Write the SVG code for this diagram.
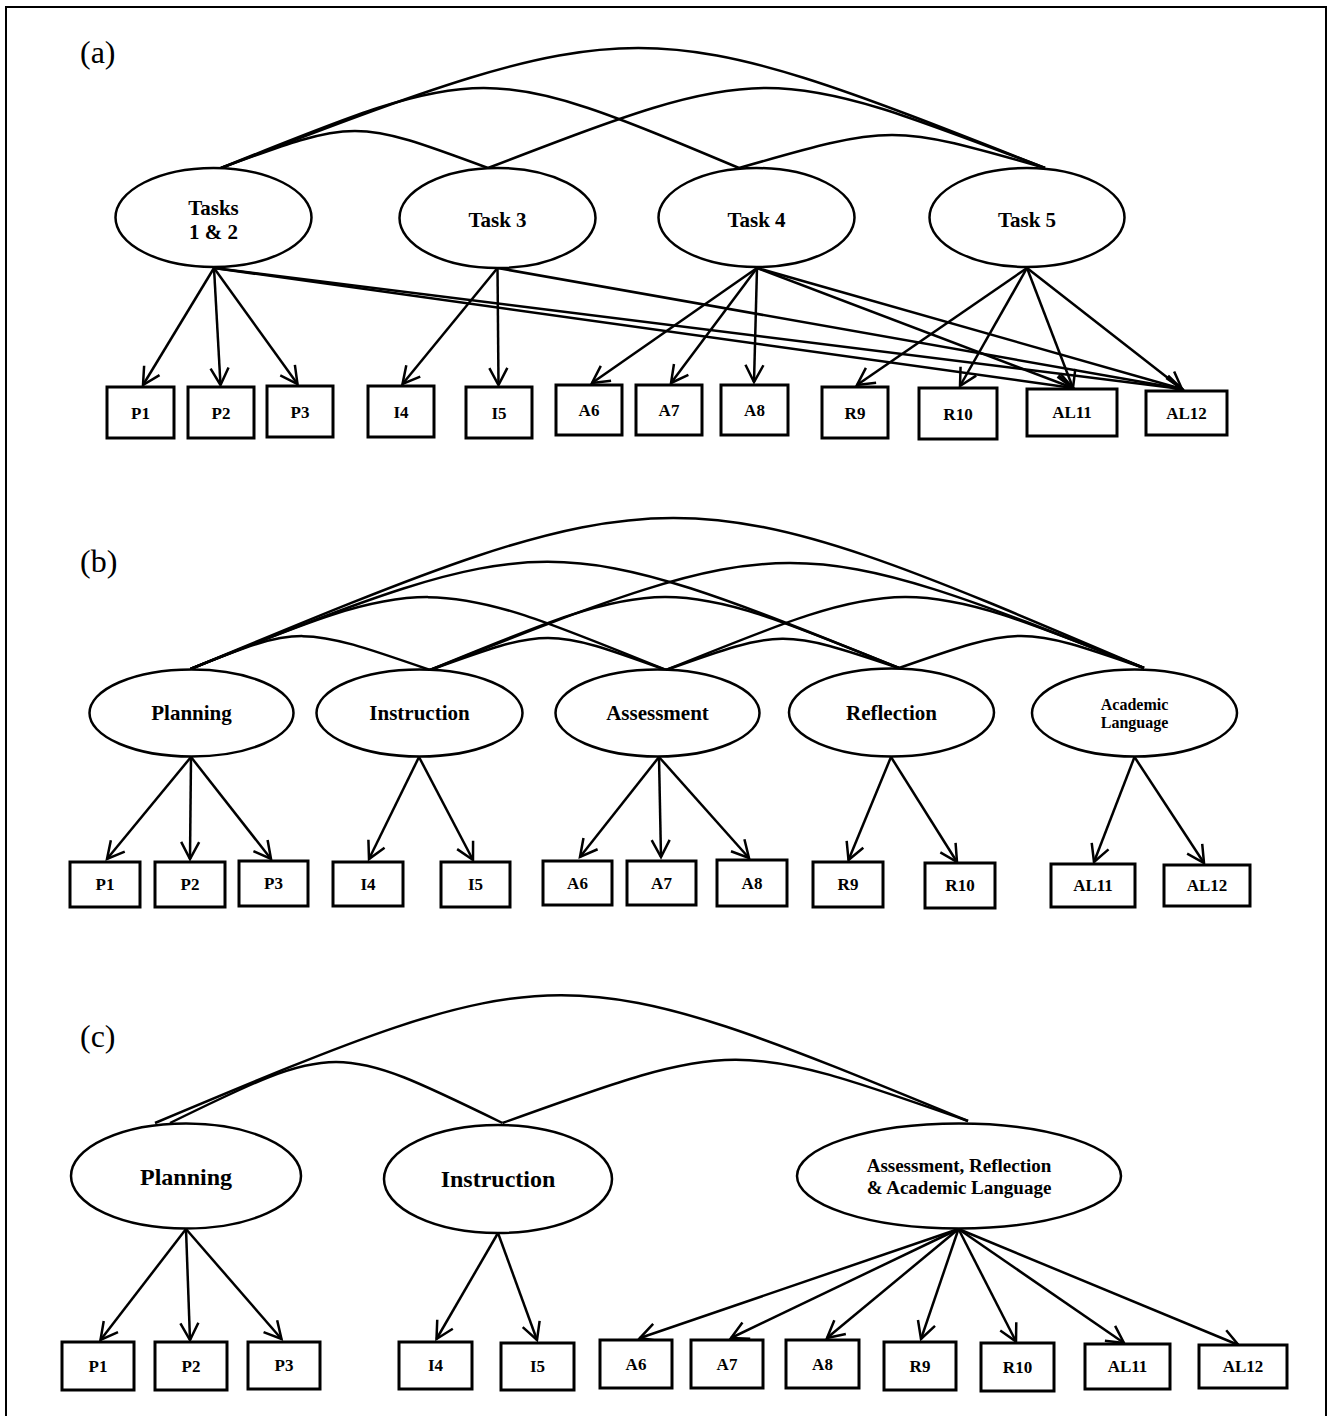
<svg xmlns="http://www.w3.org/2000/svg" width="1331" height="1416" viewBox="0 0 1331 1416">
<style>
.bg{fill:#fff}
.frame{fill:none;stroke:#000;stroke-width:2}
.lat{fill:#fff;stroke:#000;stroke-width:2.5}
.obs{fill:#fff;stroke:#000;stroke-width:3}
.cv{fill:none;stroke:#000;stroke-width:2.5}
.ar{fill:none;stroke:#000;stroke-width:2.5;marker-end:url(#ah)}
text{font-family:"Liberation Serif","Times New Roman",serif;fill:#000;text-anchor:middle}
.lab{font-size:32px;text-anchor:start}
.lt{font-size:21px;font-weight:bold}
.ls{font-size:16px;font-weight:bold}
.lc{font-size:24px;font-weight:bold}
.lc2{font-size:19px;font-weight:bold}
.bt{font-size:17px;font-weight:bold}
</style>
<defs>
<marker id="ah" markerUnits="userSpaceOnUse" markerWidth="24" markerHeight="24" viewBox="0 0 24 24" refX="18" refY="9" orient="auto" overflow="visible">
<path d="M1,0 L18,9 L1,18" fill="none" stroke="#000" stroke-width="2.5"/>
</marker>
</defs>
<rect class="bg" x="0" y="0" width="1331" height="1416"/>
<path class="frame" d="M6,1416 V7 H1326 V1416"/>
<text class="lab" x="80" y="63">(a)</text>
<text class="lab" x="80" y="572">(b)</text>
<text class="lab" x="80" y="1047">(c)</text>

<g id="connectors">
<!-- panel a covariances -->
<path class="cv" d="M221,168 C355,118.7 355,118.7 488,168"/>
<path class="cv" d="M221,168 C485,61.3 485,61.3 739,168"/>
<path class="cv" d="M221,168 C640,8 640,8 1045,168"/>
<path class="cv" d="M488,168 C766,61.3 766,61.3 1045,168"/>
<path class="cv" d="M739,168 C892,124 892,124 1045,168"/>
<!-- panel a loadings -->
<path class="ar" d="M214,268 L143,385"/>
<path class="ar" d="M214,268 L220.5,385"/>
<path class="ar" d="M214,268 L297.5,384"/>
<path class="ar" d="M214,268 L1073,388"/>
<path class="ar" d="M214,268 L1182,389"/>
<path class="ar" d="M497.5,268 L402.5,384"/>
<path class="ar" d="M497.5,268 L498.5,385"/>
<path class="ar" d="M497.5,268 L1182,389"/>
<path class="ar" d="M757,268 L592,383"/>
<path class="ar" d="M757,268 L671,383"/>
<path class="ar" d="M757,268 L754,382"/>
<path class="ar" d="M757,268 L1073,388"/>
<path class="ar" d="M757,268 L1182,389"/>
<path class="ar" d="M1027,268 L857,385"/>
<path class="ar" d="M1027,268 L960,386"/>
<path class="ar" d="M1027,268 L1073,388"/>
<path class="ar" d="M1027,268 L1182,389"/>
<!-- panel b covariances -->
<path class="cv" d="M190.5,669 C300,625 300,625 430,670"/>
<path class="cv" d="M430,670 C548,627.3 548,627.3 666,670"/>
<path class="cv" d="M666,670 C782,628.7 782,628.7 899,668"/>
<path class="cv" d="M899,668 C1021,625.3 1021,625.3 1144,668"/>
<path class="cv" d="M190.5,669 C428,573 428,573 666,670"/>
<path class="cv" d="M430,670 C665,573 665,573 899,668"/>
<path class="cv" d="M666,670 C905,573 905,573 1144,668"/>
<path class="cv" d="M190.5,669 C548,526.3 548,526.3 899,668"/>
<path class="cv" d="M430,670 C790,527.7 790,527.7 1144,668"/>
<path class="cv" d="M190.5,669 C675,467.7 675,467.7 1144,668"/>
<!-- panel b loadings -->
<path class="ar" d="M191,757 L107,859"/>
<path class="ar" d="M191,757 L190,859"/>
<path class="ar" d="M191,757 L271,859"/>
<path class="ar" d="M419,757 L369,859"/>
<path class="ar" d="M419,757 L473,860"/>
<path class="ar" d="M659,757 L580,857"/>
<path class="ar" d="M659,757 L661,857"/>
<path class="ar" d="M659,757 L749,858"/>
<path class="ar" d="M891,757 L848.5,860"/>
<path class="ar" d="M891,757 L957,862"/>
<path class="ar" d="M1134.5,757 L1094,862"/>
<path class="ar" d="M1134.5,757 L1204,863"/>
<!-- panel c covariances -->
<path class="cv" d="M170,1123 C336,1041.7 336,1041.7 502.5,1123"/>
<path class="cv" d="M502.5,1123 C735,1039 735,1039 968,1121"/>
<path class="cv" d="M155,1123 C560,953 560,953 968,1121"/>
<!-- panel c loadings -->
<path class="ar" d="M186,1229 L100.5,1340"/>
<path class="ar" d="M186,1229 L190,1340"/>
<path class="ar" d="M186,1229 L281.5,1339"/>
<path class="ar" d="M498,1233 L436.5,1339"/>
<path class="ar" d="M498,1233 L537,1340"/>
<path class="ar" d="M958.5,1229 L640,1338"/>
<path class="ar" d="M958.5,1229 L731,1338"/>
<path class="ar" d="M958.5,1229 L827,1338"/>
<path class="ar" d="M958.5,1229 L921,1339"/>
<path class="ar" d="M958.5,1229 L1016,1341.5"/>
<path class="ar" d="M958.5,1229 L1124,1343"/>
<path class="ar" d="M958.5,1229 L1238.5,1345"/>
</g>

<!-- panel a nodes -->
<g id="a-tasks12"><ellipse class="lat" cx="213.5" cy="217.5" rx="98" ry="49.5"/><text class="lt" x="213.5" y="215">Tasks</text><text class="lt" x="213.5" y="239">1 &amp; 2</text></g>
<g id="a-task3"><ellipse class="lat" cx="497.5" cy="218" rx="98" ry="50"/><text class="lt" x="497.5" y="227">Task 3</text></g>
<g id="a-task4"><ellipse class="lat" cx="756.5" cy="217.5" rx="98" ry="49.5"/><text class="lt" x="756.5" y="227">Task 4</text></g>
<g id="a-task5"><ellipse class="lat" cx="1027" cy="217.5" rx="97.5" ry="49.5"/><text class="lt" x="1027" y="227">Task 5</text></g>
<g id="a-P1"><rect class="obs" x="107" y="387" width="67" height="51"/><text class="bt" x="140.5" y="418.5">P1</text></g>
<g id="a-P2"><rect class="obs" x="188" y="387" width="66" height="51"/><text class="bt" x="221" y="418.5">P2</text></g>
<g id="a-P3"><rect class="obs" x="267" y="386" width="66" height="51"/><text class="bt" x="300" y="417.5">P3</text></g>
<g id="a-I4"><rect class="obs" x="368" y="386" width="66" height="51"/><text class="bt" x="401" y="417.5">I4</text></g>
<g id="a-I5"><rect class="obs" x="466" y="387" width="66" height="51"/><text class="bt" x="499" y="418.5">I5</text></g>
<g id="a-A6"><rect class="obs" x="556" y="385" width="66" height="50"/><text class="bt" x="589" y="415.5">A6</text></g>
<g id="a-A7"><rect class="obs" x="636" y="385" width="66" height="50"/><text class="bt" x="669" y="415.5">A7</text></g>
<g id="a-A8"><rect class="obs" x="721" y="385" width="67" height="50"/><text class="bt" x="754.5" y="415.5">A8</text></g>
<g id="a-R9"><rect class="obs" x="822" y="387" width="66" height="51"/><text class="bt" x="855" y="418.5">R9</text></g>
<g id="a-R10"><rect class="obs" x="919" y="388" width="78" height="51"/><text class="bt" x="958" y="419.5">R10</text></g>
<g id="a-AL11"><rect class="obs" x="1027" y="389" width="90" height="47"/><text class="bt" x="1072" y="418">AL11</text></g>
<g id="a-AL12"><rect class="obs" x="1146" y="391" width="81" height="44"/><text class="bt" x="1186.5" y="418.5">AL12</text></g>

<!-- panel b nodes -->
<g id="b-planning"><ellipse class="lat" cx="191.5" cy="713" rx="102" ry="43.5"/><text class="lt" x="191.5" y="720">Planning</text></g>
<g id="b-instruction"><ellipse class="lat" cx="419.5" cy="713" rx="103" ry="43.5"/><text class="lt" x="419.5" y="720">Instruction</text></g>
<g id="b-assessment"><ellipse class="lat" cx="657.5" cy="713" rx="102" ry="43.5"/><text class="lt" x="657.5" y="720">Assessment</text></g>
<g id="b-reflection"><ellipse class="lat" cx="891.5" cy="712.5" rx="102.5" ry="44"/><text class="lt" x="891.5" y="720">Reflection</text></g>
<g id="b-academic"><ellipse class="lat" cx="1134.5" cy="713" rx="102.5" ry="43.5"/><text class="ls" x="1134.5" y="710">Academic</text><text class="ls" x="1134.5" y="728">Language</text></g>
<g id="b-P1"><rect class="obs" x="70" y="862" width="70" height="45"/><text class="bt" x="105" y="890">P1</text></g>
<g id="b-P2"><rect class="obs" x="155" y="862" width="70" height="45"/><text class="bt" x="190" y="890">P2</text></g>
<g id="b-P3"><rect class="obs" x="239" y="861" width="69" height="45"/><text class="bt" x="273.5" y="889">P3</text></g>
<g id="b-I4"><rect class="obs" x="333" y="862" width="70" height="44"/><text class="bt" x="368" y="889.5">I4</text></g>
<g id="b-I5"><rect class="obs" x="441" y="862" width="69" height="45"/><text class="bt" x="475.5" y="890">I5</text></g>
<g id="b-A6"><rect class="obs" x="543" y="861" width="69" height="44"/><text class="bt" x="577.5" y="888.5">A6</text></g>
<g id="b-A7"><rect class="obs" x="627" y="861" width="69" height="44"/><text class="bt" x="661.5" y="888.5">A7</text></g>
<g id="b-A8"><rect class="obs" x="717" y="860" width="70" height="46"/><text class="bt" x="752" y="888.5">A8</text></g>
<g id="b-R9"><rect class="obs" x="813" y="862" width="70" height="45"/><text class="bt" x="848" y="890">R9</text></g>
<g id="b-R10"><rect class="obs" x="925" y="863" width="70" height="45"/><text class="bt" x="960" y="891">R10</text></g>
<g id="b-AL11"><rect class="obs" x="1051" y="864" width="84" height="43"/><text class="bt" x="1093" y="891">AL11</text></g>
<g id="b-AL12"><rect class="obs" x="1164" y="865" width="86" height="41"/><text class="bt" x="1207" y="891">AL12</text></g>

<!-- panel c nodes -->
<g id="c-planning"><ellipse class="lat" cx="186" cy="1176" rx="115" ry="52.5"/><text class="lc" x="186" y="1185">Planning</text></g>
<g id="c-instruction"><ellipse class="lat" cx="498" cy="1179" rx="114" ry="54"/><text class="lc" x="498" y="1187">Instruction</text></g>
<g id="c-aral"><ellipse class="lat" cx="959" cy="1176" rx="162" ry="52.5"/><text class="lc2" x="959" y="1172">Assessment, Reflection</text><text class="lc2" x="959" y="1194">&amp; Academic Language</text></g>
<g id="c-P1"><rect class="obs" x="62" y="1342" width="72" height="48"/><text class="bt" x="98" y="1371.5">P1</text></g>
<g id="c-P2"><rect class="obs" x="155" y="1342" width="72" height="48"/><text class="bt" x="191" y="1371.5">P2</text></g>
<g id="c-P3"><rect class="obs" x="248" y="1342" width="72" height="47"/><text class="bt" x="284" y="1371">P3</text></g>
<g id="c-I4"><rect class="obs" x="399" y="1342" width="73" height="47"/><text class="bt" x="435.5" y="1371">I4</text></g>
<g id="c-I5"><rect class="obs" x="501" y="1343" width="73" height="47"/><text class="bt" x="537.5" y="1372">I5</text></g>
<g id="c-A6"><rect class="obs" x="600" y="1340" width="72" height="48"/><text class="bt" x="636" y="1369.5">A6</text></g>
<g id="c-A7"><rect class="obs" x="691" y="1340" width="72" height="48"/><text class="bt" x="727" y="1369.5">A7</text></g>
<g id="c-A8"><rect class="obs" x="786" y="1340" width="73" height="48"/><text class="bt" x="822.5" y="1369.5">A8</text></g>
<g id="c-R9"><rect class="obs" x="884" y="1342" width="72" height="48"/><text class="bt" x="920" y="1371.5">R9</text></g>
<g id="c-R10"><rect class="obs" x="981" y="1343" width="73" height="48"/><text class="bt" x="1017.5" y="1372.5">R10</text></g>
<g id="c-AL11"><rect class="obs" x="1085" y="1344" width="85" height="45"/><text class="bt" x="1127.5" y="1372">AL11</text></g>
<g id="c-AL12"><rect class="obs" x="1199" y="1345" width="88" height="43"/><text class="bt" x="1243" y="1372">AL12</text></g>
</svg>
